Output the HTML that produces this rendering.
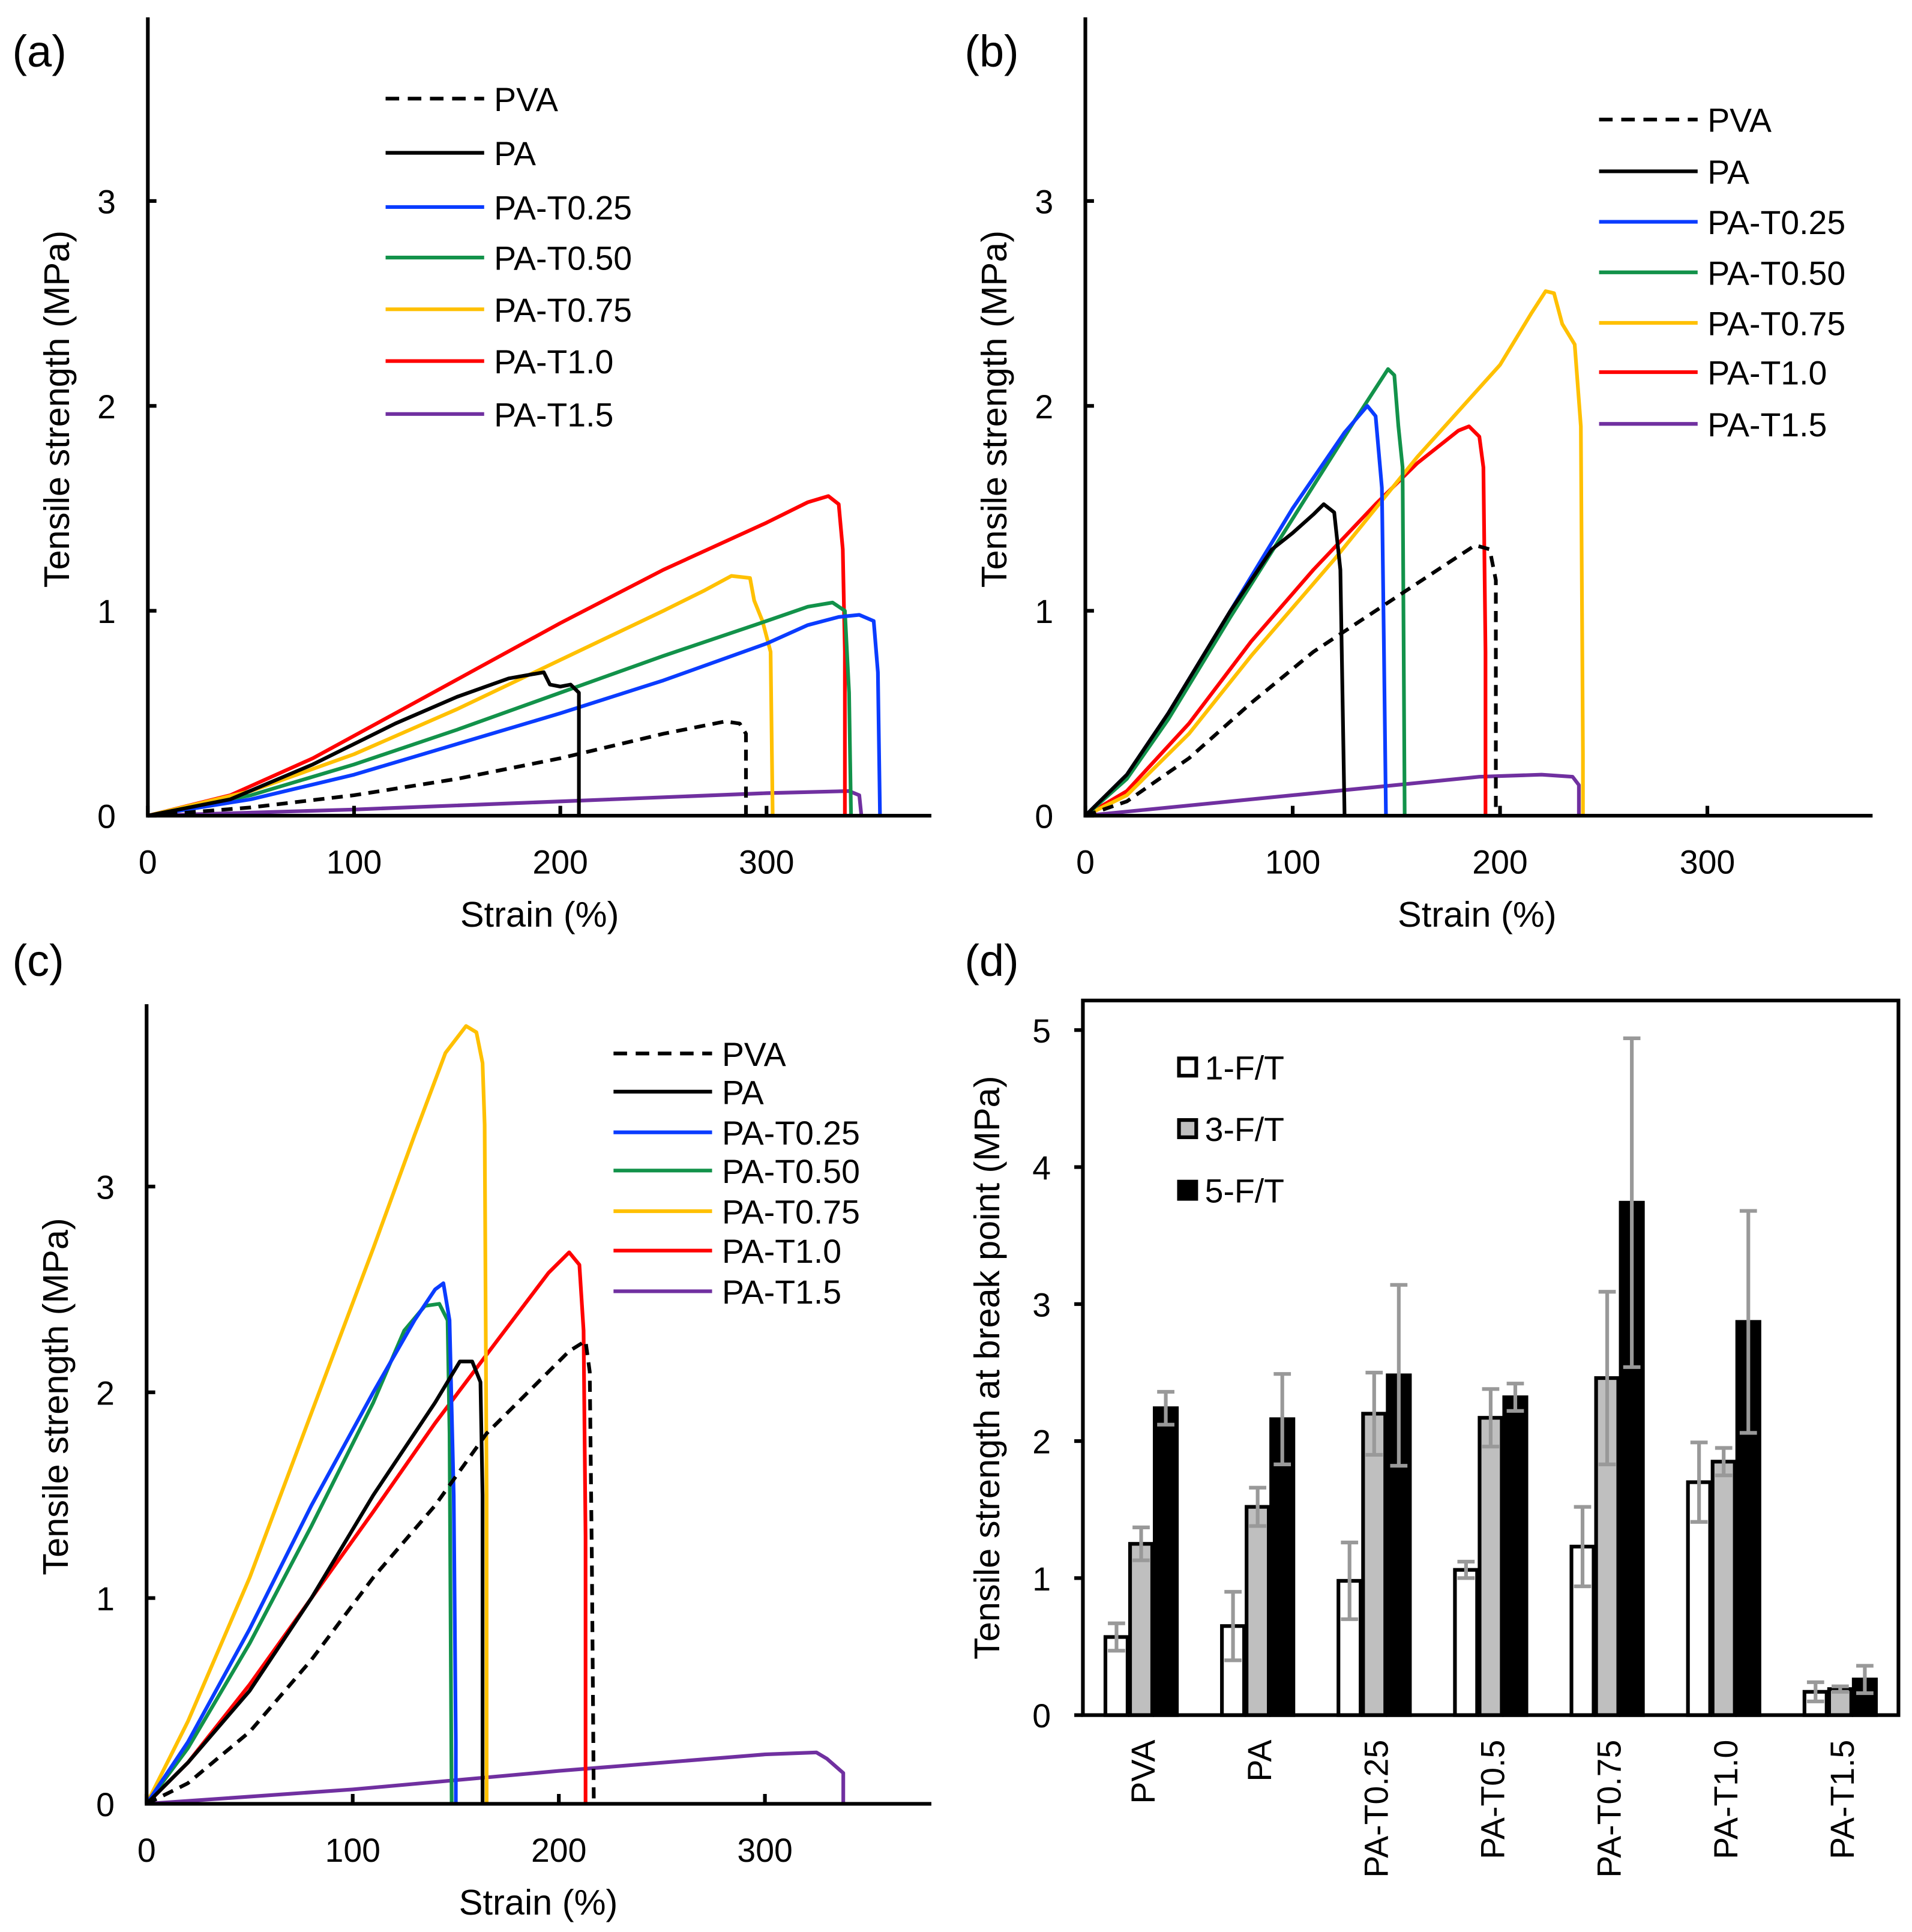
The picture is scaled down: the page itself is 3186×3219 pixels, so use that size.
<!DOCTYPE html>
<html><head><meta charset="utf-8"><style>
html,body{margin:0;padding:0;background:#fff}
svg{display:block}
text{font-family:"Liberation Sans",Arial,sans-serif;fill:#000}
</style></head><body>
<svg id="fig" width="3186" height="3219" viewBox="0 0 1552 1568" xmlns="http://www.w3.org/2000/svg"></svg>
<script>
// ---- data ----
const seriesNames = ["PVA","PA","PA-T0.25","PA-T0.50","PA-T0.75","PA-T1.0","PA-T1.5"];
const seriesColors = ["#000","#000","#0a3cff","#12924a","#ffc000","#ff0000","#7030a0"];
const aStrain = [
 [0,50,100,150,200,250,280,287,290,290],
 [0,40,80,120,150,175,192,195,200,205,209,209],
 [0,50,100,150,200,250,300,320,335,345,352,354,355],
 [0,50,100,150,200,250,300,320,332,338,340,341],
 [0,50,100,150,200,250,270,283,292,294,298,302,303],
 [0,40,80,120,160,200,250,300,320,330,335,337,338,338],
 [0,100,200,300,340,345,346]];
const aStress = [
 [0,0.04,0.1,0.18,0.28,0.4,0.46,0.45,0.4,0],
 [0,0.08,0.25,0.45,0.58,0.67,0.7,0.64,0.63,0.64,0.6,0],
 [0,0.08,0.2,0.35,0.5,0.66,0.84,0.93,0.97,0.98,0.95,0.7,0],
 [0,0.1,0.25,0.42,0.6,0.78,0.95,1.02,1.04,1.0,0.6,0],
 [0,0.12,0.3,0.52,0.76,1.0,1.1,1.17,1.16,1.05,0.95,0.8,0],
 [0,0.1,0.28,0.5,0.72,0.94,1.2,1.43,1.53,1.56,1.52,1.3,0.8,0],
 [0,0.03,0.07,0.11,0.12,0.1,0]];
const bStrain = [
 [0,20,50,80,110,140,170,188,195,198,198],
 [0,20,40,70,90,100,110,115,120,123,124,125],
 [0,20,40,70,100,125,136,140,143,144,145],
 [0,20,40,70,100,130,146,149,151,153,154],
 [0,20,50,80,120,160,200,215,222,226,230,236,239,240,240],
 [0,20,50,80,110,140,160,180,185,190,192,193,193],
 [0,50,100,150,190,220,235,238,238]];
const bStress = [
 [0,0.07,0.28,0.55,0.8,1.0,1.2,1.32,1.3,1.15,0],
 [0,0.2,0.5,1.0,1.3,1.38,1.47,1.52,1.48,1.2,0.6,0],
 [0,0.2,0.5,1.0,1.5,1.87,2.0,1.95,1.6,0.8,0],
 [0,0.18,0.47,0.97,1.45,1.93,2.18,2.15,1.9,1.7,0],
 [0,0.1,0.4,0.78,1.25,1.75,2.2,2.45,2.56,2.55,2.4,2.3,1.9,0.3,0],
 [0,0.12,0.45,0.85,1.2,1.52,1.72,1.88,1.9,1.85,1.7,0.8,0],
 [0,0.05,0.1,0.15,0.19,0.2,0.19,0.15,0]];
const cStrain = [
 [0,20,50,80,110,140,165,185,205,213,215,216,217],
 [0,20,50,80,110,140,152,158,162,163,163],
 [0,20,50,80,110,130,140,144,147,149,150,150],
 [0,20,50,80,110,125,135,142,146,147,148],
 [0,20,50,80,110,130,145,155,160,163,164,165,165],
 [0,20,50,80,110,140,170,195,205,210,212,213,213],
 [0,100,200,300,325,330,338,338]];
const cStress = [
 [0,0.1,0.35,0.7,1.1,1.45,1.8,2.0,2.2,2.25,2.1,1.2,0],
 [0,0.2,0.55,1.0,1.5,1.95,2.15,2.15,2.05,1.5,0],
 [0,0.3,0.85,1.45,2.0,2.35,2.5,2.53,2.35,1.5,0.3,0],
 [0,0.27,0.78,1.35,1.95,2.3,2.42,2.43,2.35,1.8,0],
 [0,0.4,1.1,1.9,2.7,3.25,3.65,3.78,3.75,3.6,3.3,1.5,0],
 [0,0.2,0.58,1.0,1.42,1.85,2.25,2.58,2.68,2.62,2.3,1.3,0],
 [0,0.07,0.16,0.24,0.25,0.22,0.15,0]];
const xTicks = [0,100,200,300];
const yTicks = [0,1,2,3];
const dCategories = ["PVA","PA","PA-T0.25","PA-T0.5","PA-T0.75","PA-T1.0","PA-T1.5"];
const dSeries = ["1-F/T","3-F/T","5-F/T"];
const d1 = [0.57,0.65,0.98,1.06,1.23,1.70,0.17];
const d3 = [1.25,1.52,2.20,2.17,2.46,1.85,0.19];
const d5 = [2.24,2.16,2.48,2.32,3.74,2.87,0.26];
const e1 = [0.10,0.25,0.28,0.06,0.29,0.29,0.07];
const e3 = [0.12,0.14,0.30,0.21,0.63,0.10,0.02];
const e5 = [0.12,0.33,0.66,0.10,1.20,0.81,0.10];
const dTicks = [0,1,2,3,4,5];

const NS="http://www.w3.org/2000/svg";
const svg=document.getElementById('fig');
function mk(tag,attrs,parent,txt){const e=document.createElementNS(NS,tag);for(const k in attrs)e.setAttribute(k,attrs[k]);if(txt!==undefined)e.textContent=txt;(parent||svg).appendChild(e);return e;}

function linePanel(id,label,labelPos,ox,oy,xs,ys,top,right,strain,stress,leg){
  const g=mk('g',{},svg);
  
  
  const X=v=>ox+v*xs, Y=v=>oy-v*ys;
  const pl=mk('text',{x:labelPos[0],y:labelPos[1],'font-size':36},g,label);
  
  for(let i=strain.length-1;i>=0;i--){
    const pts=strain[i].map((s,j)=>X(s).toFixed(1)+','+Y(stress[i][j]).toFixed(1)).join(' ');
    const p=mk('polyline',{points:pts,fill:'none',stroke:seriesColors[i],'stroke-width':3,'stroke-linejoin':'round','stroke-dasharray':i==0?'9,6':'none'},g);
    
    
  }
  const ax=mk('path',{d:`M${ox},${top}V${oy}H${right}`,fill:'none',stroke:'#000','stroke-width':3},g);
  
  xTicks.forEach(t=>{mk('line',{x1:X(t),x2:X(t),y1:oy,y2:oy-8,stroke:'#000','stroke-width':3},g);
    const tx=mk('text',{x:X(t),y:oy+47,'font-size':27,'text-anchor':'middle'},g,t);
    });
  yTicks.forEach(t=>{mk('line',{x1:ox,x2:ox+7,y1:Y(t),y2:Y(t),stroke:'#000','stroke-width':3},g);
    const tx=mk('text',{x:ox-26,y:Y(t)+10,'font-size':27,'text-anchor':'end'},g,t);
    });
  const xt=mk('text',{x:ox+318,y:oy+90,'font-size':29,'text-anchor':'middle'},g,'Strain (%)');
  
  const yc=oy-(oy-top)/2-6;
  const yt=mk('text',{x:0,y:0,'font-size':29,'text-anchor':'middle',transform:`translate(${ox-64},${yc}) rotate(-90)`},g,'Tensile strength (MPa)');
  
  leg.ys.forEach((y,i)=>{
    const lg=mk('g',{},g);
    
    mk('line',{x1:leg.x,x2:leg.x+80,y1:y,y2:y,stroke:seriesColors[i],'stroke-width':3,'stroke-dasharray':i==0?'11,7':'none'},lg);
    mk('text',{x:leg.x+88,y:y+10,'font-size':27},lg,seriesNames[i]);
  });
}
linePanel('panel-a','(a)',[10,54],120,662,1.674,166.3,14,756,aStrain,aStress,{x:313,ys:[80,124,168,209,251,293,336]});
linePanel('panel-b','(b)',[783,54],881,662,1.683,166.3,14,1520,bStrain,bStress,{x:1298,ys:[97,139,180,221,262,302,344]});
linePanel('panel-c','(c)',[10,792],119,1464,1.673,167,815,756,cStrain,cStress,{x:498,ys:[855,886,919,950,983,1015,1048]});

(function(){
  const g=mk('g',{},svg);
  
  const L=879,R=1541,T=812,B=1392,ys=111.2;
  const Y=v=>B-v*ys, gw=(R-L)/dCategories.length;
  const pl=mk('text',{x:783,y:792,'font-size':36},g,'(d)');
  
  const vals=[d1,d3,d5], errs=[e1,e3,e5], fills=['#fff','#bfbfbf','#000'];
  dCategories.forEach((c,i)=>{
    const cx=L+gw*(i+0.5);
    vals.forEach((arr,k)=>{
      const bx=cx-29+k*20;
      const r=mk('rect',{x:bx,y:Y(arr[i]),width:18,height:B-Y(arr[i]),fill:fills[k],stroke:'#000','stroke-width':3},g);
      
      
    });
    vals.forEach((arr,k)=>{
      const bx=cx-29+k*20+9, v=arr[i], e=errs[k][i];
      const eb=mk('path',{d:`M${bx},${Y(v+e)}V${Y(v-e)}M${bx-7},${Y(v+e)}H${bx+7}M${bx-7},${Y(v-e)}H${bx+7}`,stroke:'#999','stroke-width':3,fill:'none'},g);
      
    });
    const t=mk('text',{x:0,y:0,'font-size':27,'text-anchor':'end',transform:`translate(${cx+11},${B+20}) rotate(-90)`},g,c);
    
  });
  const bx=mk('rect',{x:L,y:T,width:R-L,height:B-T,fill:'none',stroke:'#000','stroke-width':3},g);
  
  dTicks.forEach(t=>{mk('line',{x1:L-7,x2:L,y1:Y(t),y2:Y(t),stroke:'#000','stroke-width':3},g);
    const tx=mk('text',{x:L-26,y:Y(t)+10,'font-size':27,'text-anchor':'end'},g,t);
    });
  const yt=mk('text',{x:0,y:0,'font-size':29,'text-anchor':'middle',transform:`translate(${L-68},${(T+B)/2+8}) rotate(-90)`},g,'Tensile strength at break point (MPa)');
  
  [866,916,966].forEach((y,k)=>{
    const lg=mk('g',{},g);
    
    mk('rect',{x:957,y:y-7,width:14,height:14,fill:fills[k],stroke:'#000','stroke-width':3},lg);
    mk('text',{x:978,y:y+10,'font-size':27},lg,dSeries[k]);
  });
})();
</script>
</body></html>
